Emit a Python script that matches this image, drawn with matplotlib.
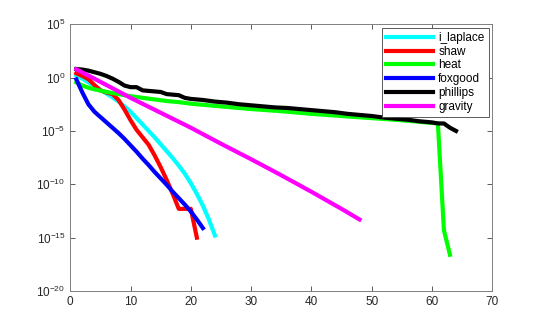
import matplotlib
matplotlib.use("Agg")
import matplotlib.pyplot as plt
import numpy as np

plt.rcParams['font.family'] = ['Liberation Sans', 'DejaVu Sans']
plt.rcParams['mathtext.fontset'] = 'custom'
plt.rcParams['mathtext.rm'] = 'Liberation Sans'
plt.rcParams['mathtext.it'] = 'Liberation Sans'

# log10 dos valores, por indice
x_laplace = list(range(1, 25))
y_laplace = [0.2, -0.1, -0.45, -0.8, -1.15, -1.5, -1.85, -2.25, -2.7, -3.2,
             -3.8, -4.4, -5.0, -5.6, -6.25, -6.9, -7.55, -8.25, -9.0, -9.9,
             -10.9, -12.0, -13.3, -14.8]

x_shaw = list(range(1, 22))
y_shaw = [0.4, 0.15, -0.15, -0.7, -1.2, -1.4, -1.55, -2.1, -3.0, -4.0,
          -4.9, -5.6, -6.3, -7.3, -8.4, -9.6, -10.9, -12.3, -12.3, -12.3,
          -15.0]

x_heat = [1, 2, 3, 4, 5, 6, 7, 8, 9, 10, 12, 14, 16, 18, 20, 25, 30, 35, 40,
          45, 50, 55, 60, 61, 62, 63]
y_heat = [-0.45, -0.75, -0.95, -1.1, -1.22, -1.35, -1.45, -1.55, -1.65, -1.75,
          -1.9, -2.05, -2.2, -2.3, -2.45, -2.7, -2.95, -3.15, -3.4, -3.6, -3.8,
          -4.0, -4.25, -4.3, -14.3, -16.6]

x_fox = list(range(1, 23))
y_fox = [-0.17, -1.4, -2.5, -3.2, -3.7, -4.2, -4.7, -5.2, -5.75, -6.35,
         -6.95, -7.6, -8.2, -8.85, -9.45, -10.05, -10.7, -11.3, -11.9, -12.55,
         -13.3, -14.1]

x_phil = [1, 2, 3, 4, 5, 6, 7, 8, 9, 10, 11, 12, 13, 14, 15, 16, 17, 18, 19,
          20, 22, 24, 26, 28, 30, 32, 34, 36, 38, 40, 42, 44, 46, 48, 50, 52,
          54, 56, 58, 60, 61, 62, 63, 64]
y_phil = [0.8, 0.75, 0.65, 0.5, 0.35, 0.15, -0.1, -0.4, -0.75, -0.9, -0.9,
          -1.2, -1.25, -1.3, -1.35, -1.55, -1.6, -1.65, -1.9, -2.0, -2.1,
          -2.25, -2.35, -2.5, -2.6, -2.7, -2.8, -2.85, -2.95, -3.05, -3.15,
          -3.25, -3.4, -3.5, -3.6, -3.75, -3.85, -3.95, -4.1, -4.2, -4.3,
          -4.3, -4.7, -5.0]

x_grav = [1, 5, 10, 15, 20, 25, 30, 35, 40, 45, 48]
y_grav = [0.78, -0.4, -1.9, -3.3, -4.7, -6.2, -7.65, -9.15, -10.7, -12.3, -13.3]

series = [
    ("i_laplace", x_laplace, y_laplace, "#00ffff"),
    ("shaw", x_shaw, y_shaw, "#ff0000"),
    ("heat", x_heat, y_heat, "#00ff00"),
    ("foxgood", x_fox, y_fox, "#0000ff"),
    ("phillips", x_phil, y_phil, "#000000"),
    ("gravity", x_grav, y_grav, "#ff00ff"),
]

fig = plt.figure(figsize=(5.45, 3.27), dpi=100)
ax = fig.add_axes([0.129, 0.110, 0.774, 0.816])

for name, xs, ys, cor in series:
    ax.semilogy(xs, 10.0 ** np.array(ys), color=cor, lw=3, label=name)

ax.set_xlim(0, 70)
ax.set_ylim(1e-20, 1e5)
ax.set_xticks(range(0, 71, 10))
yt = [5, 0, -5, -10, -15, -20]
ax.set_yticks([10.0 ** e for e in yt])
ax.set_yticklabels([r"$10^{%d}$" % e for e in yt])
ax.yaxis.set_minor_locator(matplotlib.ticker.NullLocator())

ax.tick_params(direction="in", top=True, right=True, length=3.5, width=0.6,
               labelsize=8.5, colors="#404040", labelcolor="#262626")
for s in ax.spines.values():
    s.set_color("#808080")
    s.set_linewidth(0.7)

leg = ax.legend(loc="upper right", fontsize=8.5, fancybox=False, framealpha=1,
                handlelength=4.0, borderaxespad=0.3, labelspacing=0.15,
                handletextpad=0.45, borderpad=0.35)
leg.get_frame().set_edgecolor("#404040")
leg.get_frame().set_linewidth(0.6)

fig.savefig("out.png", dpi=100)
